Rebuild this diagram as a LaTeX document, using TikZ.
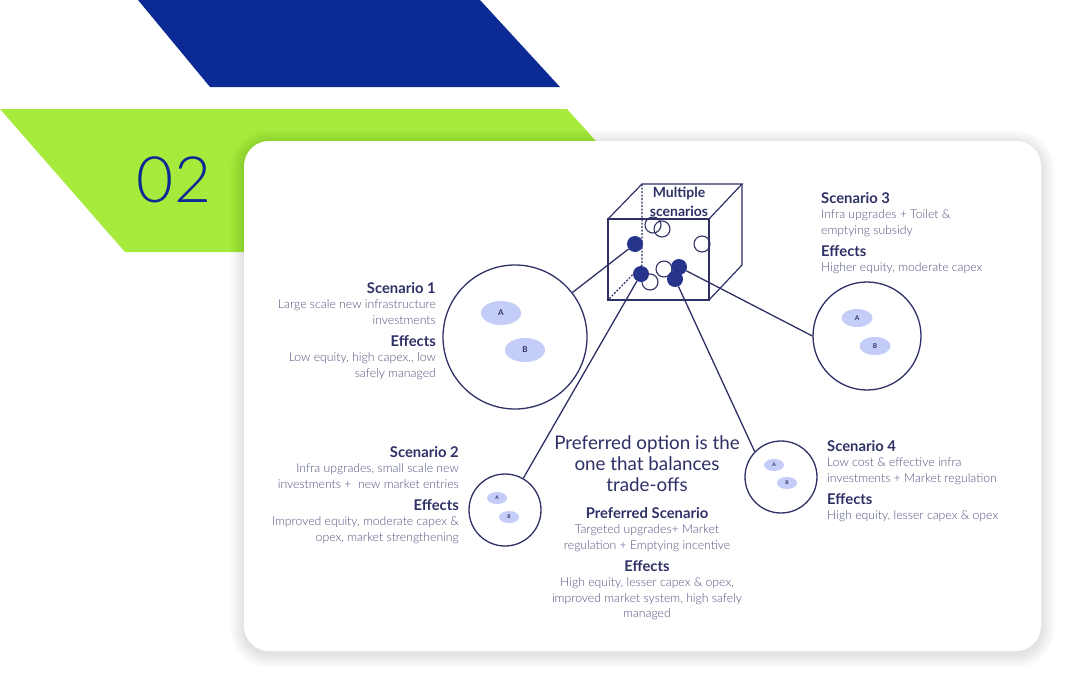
\documentclass[tikz,border=0pt]{standalone}
\usepackage{fontspec}
\setmainfont{Lato}
\newfontfamily\thinfont{Lato Light}
\usepackage{tikz}
\usetikzlibrary{shapes.geometric}
\definecolor{navy}{HTML}{2E3166}
\definecolor{inkgrey}{HTML}{50547F}
\definecolor{royal}{HTML}{0B2A94}
\definecolor{lime}{HTML}{A6EA3B}
\definecolor{dotblue}{HTML}{27348B}
\definecolor{lilac}{HTML}{C4CCF8}
\tikzstyle{dot}=[circle, fill=dotblue, minimum size=16pt, inner sep=0pt]
\tikzstyle{hollow}=[circle, draw=navy, line width=1.1pt, minimum size=16pt, inner sep=0pt]
\tikzstyle{bubble}=[circle, draw=navy, line width=1.3pt, inner sep=0pt]
\tikzstyle{blob}=[ellipse, fill=lilac, inner sep=0pt, text=navy, font=\bfseries\fontsize{8}{8}\selectfont]
\tikzstyle{tinyblob}=[blob, minimum width=20pt, minimum height=12pt, font=\bfseries\fontsize{5}{5}\selectfont]
\tikzstyle{edge}=[line width=1.2pt, draw=navy]
\tikzstyle{link}=[line width=1.3pt, draw=navy]
\tikzstyle{info}=[inner sep=0pt, text=inkgrey, font=\thinfont\fontsize{12.2}{15.5}\selectfont]
\newcommand{\hd}[1]{{\fontsize{14.8}{15.5}\selectfont\normalfont\bfseries\color{navy}#1}}

\begin{document}
\begin{tikzpicture}[x=1pt,y=-1pt]
\useasboundingbox (0,0) rectangle (1075,688);

% banners and card
\fill[royal] (138,0) -- (480,0) -- (560,87) -- (210,87) -- cycle;
\fill[lime] (0,109) -- (567,109) -- (696,252) -- (125,252) -- cycle;
\node[inner sep=0pt, text=royal, font=\thinfont\fontsize{64}{64}\selectfont] (num) at (174,180) {02};
\foreach \k in {1,...,14}
  \fill[black, opacity=0.009, rounded corners={25pt+\k pt}]
    (244-\k,141-\k+3) rectangle (1041+\k,651+\k+3);
\fill[white, rounded corners=25pt] (244,141) rectangle (1041,651);

% cube
\draw[edge, dash pattern=on 2pt off 1.5pt] (642,184) -- (642,265) -- (608,300);
\draw[edge] (608,219) rectangle (709,300);
\draw[edge] (608,219) -- (642,184) -- (742,184) -- (709,219);
\draw[edge] (742,184) -- (742,265) -- (709,300);
\node[align=center, inner sep=0pt, text=navy, font=\bfseries\fontsize{14}{19}\selectfont] (cubelabel) at (679,202) {Multiple\\scenarios};

\foreach \x/\y [count=\i] in {653/225, 662/229, 702/244, 650/282, 664/269}
  \node[hollow] (h\i) at (\x,\y) {};
\node[dot] (d1) at (635,244) {};
\node[dot] (d2) at (641,274) {};
\node[dot] (d3) at (679,267) {};
\node[dot] (d4) at (675,279) {};

% scenario bubbles
\node[bubble, minimum size=144pt] (s1) at (515,337) {};
\node[blob, minimum width=40pt, minimum height=24pt] (s1a) at (501,313) {A};
\node[blob, minimum width=40pt, minimum height=24pt] (s1b) at (525,350) {B};

\node[bubble, minimum size=72pt] (s2) at (505,510) {};
\node[tinyblob] (s2a) at (497,498) {A};
\node[tinyblob] (s2b) at (509,517) {B};

\node[bubble, minimum size=108pt] (s3) at (867,336) {};
\node[blob, minimum width=31pt, minimum height=18pt, font=\bfseries\fontsize{6.5}{6.5}\selectfont] (s3a) at (857,318) {A};
\node[blob, minimum width=31pt, minimum height=18pt, font=\bfseries\fontsize{6.5}{6.5}\selectfont] (s3b) at (875,346) {B};

\node[bubble, minimum size=72pt] (s4) at (781,477) {};
\node[tinyblob] (s4a) at (774,465) {A};
\node[tinyblob] (s4b) at (787,483) {B};

\draw[link] (d1) -- (s1);
\draw[link] (d2) -- (s2);
\draw[link] (d3) -- (s3.west);
\draw[link] (d4) -- (s4.136);

% texts
\node[info, align=right, anchor=north east] (t1) at (436,282)
  {\hd{Scenario 1}\\Large scale new infrastructure\\investments\\[6.5pt]
   \hd{Effects}\\Low equity, high capex., low\\safely managed};
\node[info, align=right, anchor=north east] (t2) at (459,446)
  {\hd{Scenario 2}\\Infra upgrades, small scale new\\investments +\ \ new market entries\\[6.5pt]
   \hd{Effects}\\Improved equity, moderate capex \&\\opex, market strengthening};
\node[info, align=left, anchor=north west] (t3) at (821,192)
  {\hd{Scenario 3}\\Infra upgrades + Toilet \&\\emptying subsidy\\[6.5pt]
   \hd{Effects}\\Higher equity, moderate capex};
\node[info, align=left, anchor=north west] (t4) at (827,440)
  {\hd{Scenario 4}\\Low cost \& effective infra\\investments + Market regulation\\[6.5pt]
   \hd{Effects}\\High equity, lesser capex \& opex};
\node[inner sep=0pt, align=center, anchor=north, text=navy, font=\fontsize{18.8}{21}\selectfont] (pref) at (647,435)
  {Preferred option is the\\one that balances\\trade-offs};
\node[info, align=center, anchor=north] (t5) at (647,507)
  {\hd{Preferred Scenario}\\Targeted upgrades+ Market\\regulation + Emptying incentive\\[6.5pt]
   \hd{Effects}\\High equity, lesser capex \& opex,\\improved market system, high safely\\managed};
\end{tikzpicture}
\end{document}
